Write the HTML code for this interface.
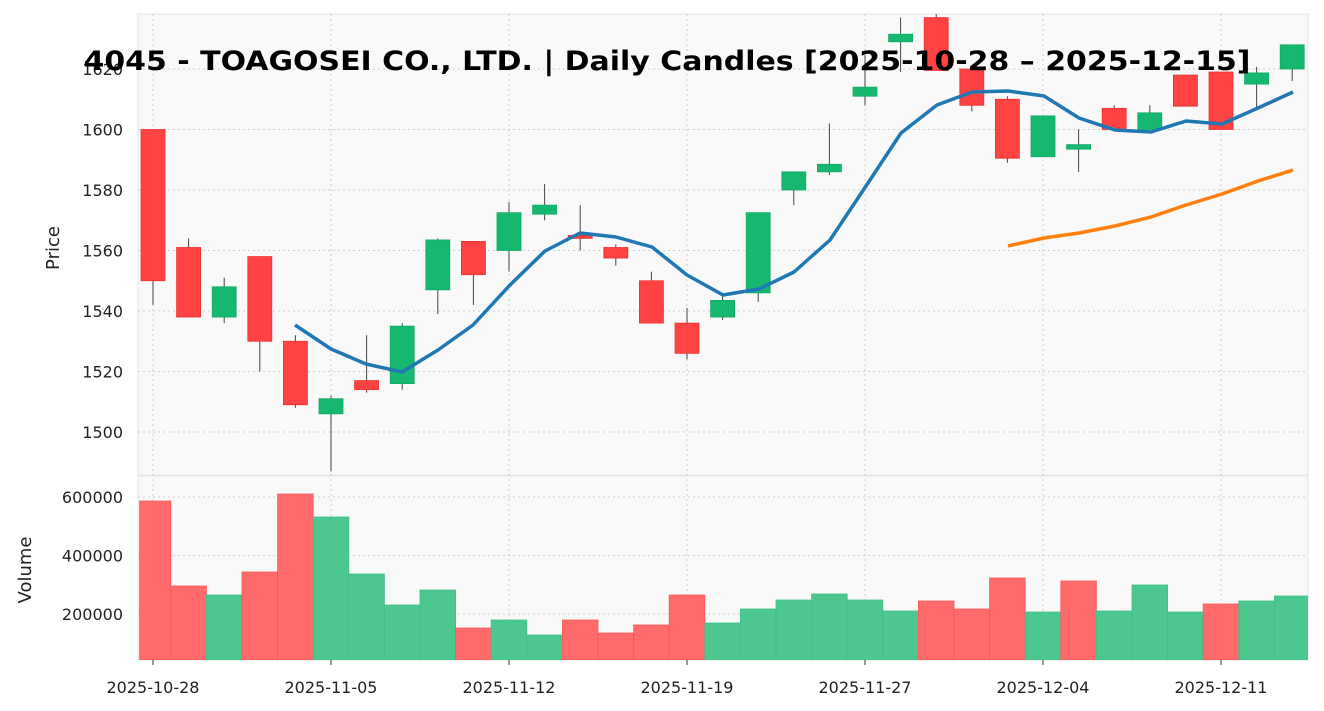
<!DOCTYPE html>
<html><head><meta charset="utf-8"><style>
html,body{margin:0;padding:0;background:#fff;}
svg{display:block;font-family:"DejaVu Sans","Liberation Sans",sans-serif;}
</style></head><body>
<svg id="s" width="1324" height="711" xmlns="http://www.w3.org/2000/svg"></svg>
<script>
const s=document.getElementById('s');
let h='<defs><clipPath id="cp"><rect x="139" y="14" width="1169" height="646"/></clipPath></defs>';
const X0=138,X1=1308;
h+=`<rect x="${X0}" y="14" width="${X1-X0}" height="461" fill="#f9f9f9" stroke="#e6e6e6"/>`;
h+=`<rect x="${X0}" y="476" width="${X1-X0}" height="184" fill="#f9f9f9" stroke="#e6e6e6"/>`;
const py=p=>432-(p-1500)*3.025;
const vy=v=>614-(v-200000)*0.0002925;
const cx=i=>153+i*35.6;
const g='stroke="#cfcfcf" stroke-dasharray="2,3" stroke-width="1"';
[1500,1520,1540,1560,1580,1600,1620].forEach(p=>{h+=`<line x1="${X0}" x2="${X1}" y1="${py(p)}" y2="${py(p)}" ${g}/>`;h+=`<text x="123" y="${py(p)+6}" font-size="16" text-anchor="end" fill="#222">${p}</text>`;});
[200000,400000,600000].forEach(v=>{h+=`<line x1="${X0}" x2="${X1}" y1="${vy(v)}" y2="${vy(v)}" ${g}/>`;h+=`<text x="123" y="${vy(v)+6}" font-size="16" text-anchor="end" fill="#222">${v}</text>`;});
const ticks=[[0,'2025-10-28'],[5,'2025-11-05'],[10,'2025-11-12'],[15,'2025-11-19'],[20,'2025-11-27'],[25,'2025-12-04'],[30,'2025-12-11']];
ticks.forEach(([i,l])=>{const x=cx(i);h+=`<line x1="${x}" x2="${x}" y1="14" y2="660" ${g}/>`;h+=`<line x1="${x}" x2="${x}" y1="660" y2="665" stroke="#333"/>`;h+=`<text x="${x}" y="693" font-size="16" text-anchor="middle" fill="#222">${l}</text>`;});
const d=[[1600,1550,1600,1542],[1561,1538,1564,1538],[1538,1548,1551,1536],[1558,1530,1558,1520],[1530,1509,1532,1508],[1506,1511,1512,1487],[1517,1514,1532,1513],[1516,1535,1536,1514],[1547,1563.5,1564,1539],[1563,1552,1563,1542],[1560,1572.5,1576,1553],[1572,1575,1582,1570],[1565,1564,1575,1560],[1561,1557.5,1562,1555],[1550,1536,1553,1536],[1536,1526,1541,1524],[1538,1543.5,1545,1537],[1546,1572.5,1572.5,1543],[1580,1586,1586,1575],[1586,1588.5,1602,1585],[1611,1614,1624.6,1608],[1629,1631.5,1637,1619],[1637,1619.5,1640,1619.5],[1620,1608,1620,1606],[1610,1590.5,1611,1589],[1591,1604.5,1604.5,1591],[1593.5,1595,1600,1586],[1607,1600,1608,1600],[1600,1605.5,1608,1600],[1618,1607.7,1618,1607.7],[1619,1600,1619,1600],[1615,1618.7,1620.7,1607],[1620,1628,1628,1616]];
const vt=[501,586,595,572,494,517,574,605,590,628,620,635,620,633,625,595,623,609,600,594,600,611,601,609,578,612,581,611,585,612,604,601,596];
const vc="RRGRRGGGGRGGRRRRGGGGGGRRRGRGGGRGG";
let v='<g clip-path="url(#cp)">';
let c='';
d.forEach((r,i)=>{const up=r[1]>=r[0];const x=cx(i);const vg=vc[i]=='G';
 v+=`<rect x="${x-17.8}" y="${vt[i]}" width="35.6" height="${660-vt[i]}" fill="${vg?'#4cc790':'#ff6b6b'}" stroke="${vg?'#3fbf85':'#f55'}" stroke-width="0.8"/>`;
 c+=`<line x1="${x}" x2="${x}" y1="${Math.max(14,py(r[2]))}" y2="${py(r[3])}" stroke="#444" stroke-width="1"/>`;
 const t=Math.max(14,py(Math.max(r[0],r[1]))),b=py(Math.min(r[0],r[1]));
 c+=`<rect x="${x-12}" y="${t}" width="24" height="${Math.max(1,b-t)}" fill="${up?'#16b870':'#ff4242'}" stroke="${up?'#13a865':'#e33'}" stroke-width="0.8"/>`;});
v+='</g>';
h+=v+c;
const blue=[[295,325],[331,349],[366,364],[402,372],[438,350],[473,325],[509,286],[545,251],[580,233],[616,237],[652,247],[687,275],[723,295],[759,289],[794,272],[830,240],[866,186],[901,133],[937,105],[972,92],[1008,91],[1044,96],[1079,118],[1115,130],[1151,132],[1186,121],[1222,124],[1258,108],[1293,92]];
const orange=[[1008,246],[1044,238],[1079,233],[1115,226],[1151,217],[1186,205],[1222,194],[1258,181],[1293,170]];
h+=`<polyline points="${blue.join(' ')}" fill="none" stroke="#1f77b4" stroke-width="3.5" stroke-linejoin="round"/>`;
h+=`<polyline points="${orange.join(' ')}" fill="none" stroke="#ff7f0e" stroke-width="3.5" stroke-linejoin="round"/>`;
h+=`<text transform="translate(59,248) rotate(-90)" font-size="18" text-anchor="middle" fill="#222">Price</text>`;
h+=`<text transform="translate(31,570) rotate(-90)" font-size="18" text-anchor="middle" fill="#222">Volume</text>`;
h+=`<text x="667" y="70" font-size="27" font-weight="bold" text-anchor="middle" fill="#000" textLength="1167" lengthAdjust="spacingAndGlyphs">4045 - TOAGOSEI CO., LTD. | Daily Candles [2025-10-28 – 2025-12-15]</text>`;
s.innerHTML=h;
</script>
</body></html>
